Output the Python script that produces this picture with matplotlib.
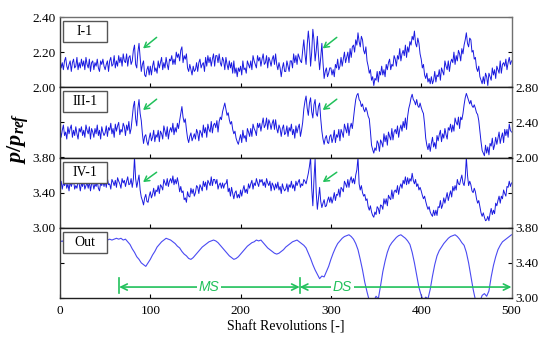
import numpy as np
import matplotlib.pyplot as plt
from matplotlib.patches import Rectangle

plt.rcParams['font.family'] = 'serif'
plt.rcParams['font.serif'] = ['Liberation Serif', 'DejaVu Serif']
plt.rcParams['mathtext.fontset'] = 'custom'
plt.rcParams['mathtext.it'] = 'Liberation Serif:italic:bold'
plt.rcParams['mathtext.rm'] = 'Liberation Serif:bold'

LINE_BLUE = '#1a1ae0'
OUT_BLUE = '#4a4af2'
GREEN = '#21c15b'

# shaft revolutions: blade-row probes every 1.25 rev, outlet every 2.5 rev
rev_fine = np.arange(0, 500.01, 1.25)
rev = np.arange(0, 500.01, 2.5)

# p/p_ref (two lines = 50 rev)
i1 = [
    2.16, 2.11, 2.14, 2.10, 2.15, 2.17, 2.12, 2.10, 2.13, 2.15, 2.09, 2.14, 2.16, 2.11, 2.12, 2.17, 2.10, 2.14, 2.11, 2.16,
    2.12, 2.15, 2.10, 2.17, 2.13, 2.11, 2.16, 2.09, 2.14, 2.15, 2.10, 2.14, 2.12, 2.16, 2.11, 2.09, 2.15, 2.13, 2.16, 2.12,
    2.10, 2.13, 2.15, 2.09, 2.15, 2.17, 2.12, 2.13, 2.18, 2.11, 2.15, 2.12, 2.18, 2.14, 2.17, 2.12, 2.19, 2.15, 2.14, 2.19,
    2.12, 2.17, 2.18, 2.13, 2.15, 2.21, 2.24, 2.13, 2.11, 2.20, 2.25, 2.17, 2.09, 2.13, 2.15, 2.07, 2.06, 2.10, 2.12, 2.07,
    2.12, 2.07, 2.12, 2.15, 2.09, 2.11, 2.08, 2.15, 2.11, 2.14, 2.17, 2.10, 2.14, 2.11, 2.17, 2.13, 2.10, 2.16, 2.15, 2.18,
    2.13, 2.16, 2.13, 2.20, 2.17, 2.19, 2.15, 2.21, 2.23, 2.14, 2.18, 2.16, 2.19, 2.11, 2.09, 2.13, 2.10, 2.07, 2.12, 2.09,
    2.10, 2.14, 2.09, 2.14, 2.16, 2.11, 2.13, 2.14, 2.09, 2.17, 2.12, 2.18, 2.14, 2.17, 2.12, 2.16, 2.19, 2.12, 2.18, 2.18,
    2.14, 2.19, 2.14, 2.12, 2.17, 2.15, 2.10, 2.17, 2.13, 2.10, 2.15, 2.11, 2.14, 2.08, 2.15, 2.08, 2.11, 2.06, 2.11, 2.09,
    2.12, 2.07, 2.15, 2.10, 2.11, 2.08, 2.15, 2.13, 2.11, 2.15, 2.10, 2.18, 2.15, 2.13, 2.11, 2.18, 2.15, 2.17, 2.12, 2.16,
    2.19, 2.13, 2.14, 2.18, 2.11, 2.17, 2.15, 2.12, 2.16, 2.18, 2.13, 2.19, 2.13, 2.10, 2.14, 2.11, 2.06, 2.11, 2.14, 2.09,
    2.09, 2.15, 2.12, 2.09, 2.15, 2.15, 2.11, 2.19, 2.14, 2.18, 2.13, 2.19, 2.17, 2.15, 2.14, 2.21, 2.27, 2.19, 2.13, 2.24,
    2.32, 2.25, 2.12, 2.20, 2.33, 2.27, 2.15, 2.21, 2.29, 2.18, 2.10, 2.17, 2.25, 2.14, 2.05, 2.09, 2.11, 2.06, 2.08, 2.11,
    2.11, 2.07, 2.10, 2.06, 2.13, 2.11, 2.16, 2.10, 2.12, 2.17, 2.12, 2.16, 2.20, 2.14, 2.17, 2.20, 2.14, 2.22, 2.17, 2.23,
    2.24, 2.20, 2.27, 2.24, 2.31, 2.26, 2.23, 2.29, 2.27, 2.21, 2.19, 2.23, 2.15, 2.12, 2.08, 2.10, 2.04, 2.06, 2.01, 2.05,
    2.04, 2.09, 2.03, 2.09, 2.07, 2.12, 2.07, 2.10, 2.06, 2.13, 2.10, 2.14, 2.16, 2.10, 2.13, 2.12, 2.18, 2.16, 2.12, 2.18,
    2.16, 2.22, 2.15, 2.19, 2.21, 2.18, 2.24, 2.17, 2.23, 2.20, 2.26, 2.24, 2.29, 2.27, 2.32, 2.25, 2.23, 2.28, 2.25, 2.19,
    2.16, 2.11, 2.13, 2.07, 2.05, 2.08, 2.03, 2.05, 2.02, 2.06, 2.02, 2.04, 2.09, 2.03, 2.07, 2.06, 2.10, 2.04, 2.11, 2.09,
    2.07, 2.15, 2.12, 2.10, 2.15, 2.09, 2.14, 2.16, 2.14, 2.20, 2.13, 2.18, 2.15, 2.21, 2.19, 2.15, 2.22, 2.19, 2.24, 2.27,
    2.31, 2.25, 2.23, 2.28, 2.27, 2.20, 2.21, 2.16, 2.17, 2.11, 2.09, 2.12, 2.06, 2.04, 2.02, 2.06, 2.02, 2.08, 2.06, 2.01,
    2.08, 2.06, 2.04, 2.11, 2.07, 2.10, 2.05, 2.12, 2.10, 2.08, 2.15, 2.08, 2.13, 2.14, 2.12, 2.16, 2.10, 2.14, 2.17, 2.13,
    2.15,
]

iii1 = [
    2.33, 2.23, 2.31, 2.37, 2.25, 2.29, 2.21, 2.35, 2.27, 2.33, 2.37, 2.23, 2.31, 2.25, 2.35, 2.27, 2.21, 2.33, 2.29, 2.35,
    2.25, 2.31, 2.23, 2.37, 2.31, 2.27, 2.35, 2.21, 2.33, 2.29, 2.23, 2.33, 2.27, 2.37, 2.25, 2.31, 2.21, 2.35, 2.29, 2.25,
    2.28, 2.36, 2.24, 2.34, 2.31, 2.39, 2.27, 2.33, 2.23, 2.38, 2.30, 2.36, 2.40, 2.26, 2.32, 2.29, 2.39, 2.35, 2.25, 2.37,
    2.31, 2.41, 2.27, 2.33, 2.46, 2.58, 2.64, 2.44, 2.36, 2.56, 2.66, 2.50, 2.42, 2.27, 2.16, 2.24, 2.26, 2.18, 2.14, 2.22,
    2.28, 2.19, 2.23, 2.31, 2.18, 2.26, 2.23, 2.31, 2.18, 2.30, 2.27, 2.21, 2.36, 2.30, 2.24, 2.35, 2.21, 2.30, 2.34, 2.29,
    2.39, 2.26, 2.34, 2.29, 2.39, 2.33, 2.42, 2.50, 2.58, 2.46, 2.40, 2.44, 2.32, 2.22, 2.17, 2.24, 2.28, 2.19, 2.23, 2.27,
    2.21, 2.32, 2.28, 2.19, 2.31, 2.28, 2.23, 2.37, 2.28, 2.34, 2.23, 2.38, 2.32, 2.29, 2.41, 2.28, 2.37, 2.39, 2.34, 2.42,
    2.29, 2.41, 2.46, 2.43, 2.52, 2.57, 2.62, 2.55, 2.48, 2.51, 2.43, 2.38, 2.41, 2.32, 2.27, 2.30, 2.22, 2.18, 2.15, 2.21,
    2.26, 2.17, 2.31, 2.22, 2.25, 2.18, 2.33, 2.29, 2.24, 2.33, 2.24, 2.38, 2.33, 2.30, 2.25, 2.39, 2.34, 2.39, 2.30, 2.38,
    2.45, 2.34, 2.37, 2.45, 2.32, 2.43, 2.39, 2.32, 2.39, 2.43, 2.32, 2.43, 2.33, 2.28, 2.37, 2.33, 2.24, 2.33, 2.37, 2.26,
    2.28, 2.36, 2.24, 2.34, 2.30, 2.38, 2.26, 2.32, 2.22, 2.36, 2.28, 2.34, 2.38, 2.24, 2.31, 2.40, 2.55, 2.64, 2.70, 2.56,
    2.48, 2.62, 2.68, 2.52, 2.45, 2.60, 2.66, 2.50, 2.47, 2.58, 2.62, 2.44, 2.30, 2.21, 2.15, 2.22, 2.25, 2.17, 2.16, 2.24,
    2.26, 2.17, 2.22, 2.31, 2.17, 2.26, 2.23, 2.32, 2.19, 2.32, 2.28, 2.23, 2.38, 2.33, 2.28, 2.39, 2.25, 2.34, 2.39, 2.33,
    2.45, 2.56, 2.66, 2.71, 2.73, 2.66, 2.64, 2.58, 2.61, 2.55, 2.52, 2.57, 2.53, 2.47, 2.44, 2.30, 2.14, 2.09, 2.05, 2.11,
    2.08, 2.19, 2.16, 2.07, 2.20, 2.17, 2.12, 2.27, 2.18, 2.25, 2.14, 2.29, 2.24, 2.20, 2.33, 2.20, 2.29, 2.32, 2.27, 2.36,
    2.23, 2.32, 2.37, 2.30, 2.41, 2.34, 2.45, 2.32, 2.47, 2.56, 2.61, 2.68, 2.72, 2.66, 2.64, 2.60, 2.66, 2.59, 2.57, 2.62,
    2.57, 2.53, 2.50, 2.38, 2.22, 2.14, 2.09, 2.16, 2.07, 2.16, 2.23, 2.12, 2.17, 2.10, 2.25, 2.19, 2.26, 2.31, 2.18, 2.27,
    2.22, 2.33, 2.26, 2.21, 2.34, 2.31, 2.38, 2.29, 2.37, 2.30, 2.45, 2.40, 2.37, 2.46, 2.33, 2.46, 2.43, 2.50, 2.60, 2.68,
    2.73, 2.69, 2.65, 2.61, 2.65, 2.59, 2.57, 2.60, 2.56, 2.51, 2.49, 2.42, 2.30, 2.18, 2.08, 2.05, 2.02, 2.14, 2.05, 2.12,
    2.03, 2.16, 2.13, 2.22, 2.09, 2.14, 2.23, 2.15, 2.22, 2.29, 2.16, 2.23, 2.28, 2.17, 2.32, 2.25, 2.32, 2.23, 2.38, 2.31,
    2.29,
]

iv1 = [
    3.47, 3.53, 3.44, 3.51, 3.48, 3.54, 3.45, 3.50, 3.42, 3.53, 3.47, 3.51, 3.54, 3.44, 3.48, 3.45, 3.53, 3.50, 3.42, 3.51,
    3.47, 3.54, 3.44, 3.48, 3.51, 3.45, 3.53, 3.42, 3.50, 3.51, 3.44, 3.50, 3.47, 3.53, 3.45, 3.42, 3.51, 3.48, 3.53, 3.47,
    3.53, 3.46, 3.56, 3.49, 3.50, 3.44, 3.55, 3.52, 3.48, 3.54, 3.46, 3.57, 3.53, 3.50, 3.45, 3.56, 3.51, 3.54, 3.47, 3.53,
    3.58, 3.49, 3.50, 3.56, 3.46, 3.55, 3.80, 3.56, 3.46, 3.53, 3.60, 3.43, 3.35, 3.31, 3.26, 3.34, 3.38, 3.30, 3.29, 3.36,
    3.41, 3.34, 3.38, 3.45, 3.36, 3.43, 3.41, 3.48, 3.39, 3.49, 3.47, 3.43, 3.55, 3.51, 3.48, 3.56, 3.47, 3.53, 3.56, 3.51,
    3.59, 3.49, 3.55, 3.50, 3.57, 3.50, 3.41, 3.47, 3.40, 3.42, 3.32, 3.34, 3.29, 3.41, 3.36, 3.35, 3.45, 3.39, 3.44, 3.36,
    3.40, 3.48, 3.46, 3.39, 3.49, 3.46, 3.42, 3.53, 3.47, 3.52, 3.43, 3.54, 3.51, 3.48, 3.58, 3.48, 3.55, 3.55, 3.50, 3.55,
    3.44, 3.49, 3.51, 3.45, 3.51, 3.45, 3.50, 3.50, 3.55, 3.41, 3.45, 3.36, 3.46, 3.39, 3.33, 3.40, 3.42, 3.34, 3.38, 3.34,
    3.43, 3.36, 3.43, 3.48, 3.40, 3.44, 3.39, 3.50, 3.45, 3.50, 3.54, 3.44, 3.51, 3.48, 3.56, 3.51, 3.47, 3.55, 3.52, 3.55,
    3.48, 3.52, 3.46, 3.56, 3.51, 3.48, 3.53, 3.42, 3.51, 3.48, 3.43, 3.50, 3.45, 3.52, 3.43, 3.47, 3.39, 3.50, 3.45, 3.42,
    3.44, 3.50, 3.41, 3.49, 3.46, 3.53, 3.45, 3.49, 3.42, 3.53, 3.48, 3.52, 3.55, 3.46, 3.50, 3.48, 3.55, 3.53, 3.50, 3.56,
    3.62, 3.70, 3.80, 3.45, 3.25, 3.55, 3.78, 3.40, 3.21, 3.33, 3.46, 3.30, 3.23, 3.28, 3.32, 3.24, 3.25, 3.31, 3.35, 3.29,
    3.35, 3.28, 3.33, 3.40, 3.31, 3.38, 3.37, 3.44, 3.35, 3.46, 3.44, 3.41, 3.53, 3.50, 3.46, 3.55, 3.46, 3.54, 3.58, 3.51,
    3.56, 3.50, 3.60, 3.66, 3.80, 3.50, 3.43, 3.48, 3.40, 3.36, 3.38, 3.31, 3.33, 3.24, 3.20, 3.25, 3.18, 3.14, 3.12, 3.18,
    3.15, 3.24, 3.22, 3.16, 3.26, 3.25, 3.21, 3.33, 3.27, 3.33, 3.25, 3.37, 3.34, 3.32, 3.43, 3.33, 3.41, 3.43, 3.40, 3.48,
    3.38, 3.46, 3.50, 3.45, 3.54, 3.50, 3.58, 3.49, 3.57, 3.50, 3.56, 3.53, 3.62, 3.54, 3.50, 3.55, 3.47, 3.50, 3.43, 3.46,
    3.42, 3.37, 3.33, 3.36, 3.30, 3.25, 3.21, 3.24, 3.18, 3.15, 3.13, 3.20, 3.14, 3.20, 3.14, 3.24, 3.23, 3.31, 3.22, 3.26,
    3.34, 3.28, 3.34, 3.40, 3.31, 3.37, 3.42, 3.35, 3.47, 3.42, 3.48, 3.43, 3.55, 3.50, 3.49, 3.55, 3.60, 3.51, 3.48, 3.57,
    3.80, 3.60, 3.48, 3.53, 3.49, 3.42, 3.40, 3.45, 3.41, 3.33, 3.28, 3.31, 3.24, 3.17, 3.13, 3.17, 3.12, 3.08, 3.09, 3.13,
    3.08, 3.16, 3.22, 3.15, 3.20, 3.16, 3.28, 3.25, 3.31, 3.36, 3.28, 3.36, 3.33, 3.43, 3.39, 3.36, 3.47, 3.46, 3.53, 3.47,
    3.51,
]

# outlet probe (one line = 50 rev)
out_p = [
    3.64, 3.65, 3.63, 3.65, 3.64, 3.66, 3.64, 3.65, 3.63, 3.65, 3.66, 3.64, 3.65, 3.63, 3.65, 3.66, 3.64, 3.65, 3.66, 3.64,
    3.65, 3.66, 3.67, 3.66, 3.67, 3.68, 3.67, 3.68, 3.66, 3.67, 3.64, 3.61, 3.56, 3.52, 3.47, 3.44, 3.40, 3.38, 3.36, 3.40,
    3.44, 3.49, 3.53, 3.58, 3.61, 3.64, 3.66, 3.68, 3.67, 3.66, 3.64, 3.62, 3.59, 3.57, 3.53, 3.50, 3.48, 3.45, 3.44, 3.46,
    3.49, 3.52, 3.55, 3.58, 3.60, 3.62, 3.64, 3.65, 3.66, 3.65, 3.63, 3.60, 3.57, 3.54, 3.51, 3.48, 3.46, 3.44, 3.45, 3.47,
    3.50, 3.53, 3.56, 3.59, 3.61, 3.63, 3.64, 3.66, 3.65, 3.66, 3.63, 3.60, 3.57, 3.55, 3.53, 3.51, 3.50, 3.51, 3.53, 3.55,
    3.58, 3.60, 3.62, 3.64, 3.65, 3.66, 3.64, 3.62, 3.60, 3.57, 3.51, 3.45, 3.38, 3.32, 3.27, 3.22, 3.25, 3.24, 3.30, 3.36,
    3.44, 3.51, 3.57, 3.62, 3.65, 3.68, 3.70, 3.71, 3.72, 3.70, 3.67, 3.62, 3.55, 3.44, 3.32, 3.18, 3.07, 2.97, 2.93, 2.97,
    3.02, 2.99, 3.14, 3.30, 3.42, 3.52, 3.59, 3.63, 3.66, 3.69, 3.71, 3.72, 3.70, 3.68, 3.65, 3.61, 3.52, 3.40, 3.26, 3.12,
    3.03, 2.97, 3.01, 2.99, 3.10, 3.25, 3.38, 3.48, 3.54, 3.58, 3.62, 3.65, 3.68, 3.70, 3.71, 3.72, 3.70, 3.67, 3.63, 3.60,
    3.52, 3.40, 3.25, 3.10, 2.98, 2.93, 2.96, 3.03, 3.05, 3.02, 3.08, 3.24, 3.37, 3.47, 3.55, 3.60, 3.64, 3.66, 3.68, 3.70,
    3.72,
]

assert len(i1) == len(iii1) == len(iv1) == len(rev_fine), (len(i1), len(iii1), len(iv1))
assert len(out_p) == len(rev)

series = [(rev_fine, i1), (rev_fine, iii1), (rev_fine, iv1), (rev, out_p)]
names = ['I-1', 'III-1', 'IV-1', 'Out']
y_limits = [(2.0, 2.4), (2.0, 2.8), (3.0, 3.8), (3.0, 3.8)]
label_sides = ['left', 'right', 'left', 'right']
x_ticks = [0, 100, 200, 300, 400, 500]

# operating regimes shown in the Out panel
regime_edges = [65.5, 265.5, 500]
regime_names = ['MS', 'DS']
regime_text_x = [165, 313]

# onset markers (rev of arrow tip / tail) for the first three panels
marker_tips = [92, 291]
marker_tails = [107, 306.5]

fig = plt.figure(figsize=(5.5, 3.45), dpi=100)
W, H = 550.0, 345.0
left_px, right_px, top_px, panel_h = 60.0, 511.5, 17.0, 70.25

axes = []
for k in range(4):
    bottom = top_px + panel_h * (k + 1)
    ax = fig.add_axes([left_px / W, 1 - bottom / H, (right_px - left_px) / W, panel_h / H])
    axes.append(ax)

for k, ax in enumerate(axes):
    lo, hi = y_limits[k]
    x, y = series[k]
    if k == 3:
        ax.plot(x, y, color=OUT_BLUE, lw=0.8)
    else:
        ax.plot(x, y, color=LINE_BLUE, lw=0.7)
    ax.set_xlim(0, 500)
    ax.set_ylim(lo, hi)
    ax.set_yticks([lo, (lo + hi) / 2, hi])
    ax.yaxis.set_major_formatter(plt.FormatStrFormatter('%.2f'))
    ax.set_xticks(x_ticks)
    side = label_sides[k]
    ax.tick_params(axis='y', direction='in', length=3, left=True, right=True,
                   labelleft=(side == 'left'), labelright=(side == 'right'),
                   labelsize=9.5, pad=3)
    ax.tick_params(axis='x', direction='in', length=3, bottom=True, top=False,
                   labelbottom=(k == 3), labelsize=9.5, pad=5)

    for s in ['left', 'right', 'top', 'bottom']:
        ax.spines[s].set_linewidth(1.0)
    ax.spines['left'].set_color('#3a3a3a')
    ax.spines['right'].set_color('#707070')
    ax.spines['top'].set_color('#707070' if k == 0 else '#202020')
    ax.spines['bottom'].set_color('#202020')

    # name box in the upper-left corner
    bx, bw = 3.0 / (right_px - left_px), 44.0 / (right_px - left_px)
    by, bh = 1 - 25.0 / panel_h, 21.0 / panel_h
    ax.add_patch(Rectangle((bx, by), bw, bh, transform=ax.transAxes,
                           fc='white', ec='#555555', lw=1.0, zorder=5))
    ax.text(bx + bw / 2, by + bh / 2, names[k], transform=ax.transAxes,
            ha='center', va='center', fontsize=10, zorder=6)

    if k < 3:
        tip_y = [0.553, 0.676, 0.65][k]
        tail_y = [0.71, 0.83, 0.79][k]
        for tx, sx in zip(marker_tips, marker_tails):
            ax.annotate('', xy=(tx, tip_y), xytext=(sx, tail_y),
                        xycoords=('data', 'axes fraction'),
                        textcoords=('data', 'axes fraction'),
                        arrowprops=dict(arrowstyle='->,head_length=0.35,head_width=0.2',
                                        color=GREEN, lw=1.1, shrinkA=0, shrinkB=0))

out_ax = axes[3]
arrow_y = 0.156
for a, b, name, tx in zip(regime_edges[:-1], regime_edges[1:], regime_names, regime_text_x):
    out_ax.annotate('', xy=(a, arrow_y), xytext=(b, arrow_y),
                    xycoords=('data', 'axes fraction'),
                    textcoords=('data', 'axes fraction'),
                    arrowprops=dict(arrowstyle='<->,head_length=0.45,head_width=0.22',
                                    color=GREEN, lw=1.2, shrinkA=0, shrinkB=0))
    out_ax.text(tx, arrow_y, name, transform=out_ax.get_xaxis_transform(),
                ha='center', va='center', fontsize=10, color=GREEN,
                family='Liberation Sans', style='italic',
                bbox=dict(fc='white', ec='none', pad=1.2))
for x in regime_edges[:-1]:
    out_ax.axvline(x, ymin=0.07, ymax=0.29, color=GREEN, lw=1.2)

out_ax.set_xlabel('Shaft Revolutions [-]', fontsize=10, labelpad=2)

fig.text(18 / W, 1 - 138 / H, r'$p/p_{ref}$', rotation=90,
         ha='center', va='center', fontsize=16)

fig.savefig('out.png', dpi=100)
